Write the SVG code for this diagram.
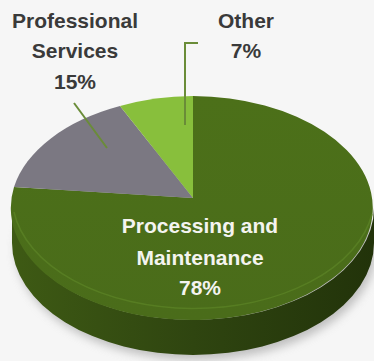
<svg xmlns="http://www.w3.org/2000/svg" width="374" height="361" viewBox="0 0 374 361">
  <style>
    .lbl { font-family: "Liberation Sans", Arial, sans-serif; font-weight: bold; font-size: 21px; text-anchor: middle; }
    .dark { fill: #3a3a3a; }
    .light { fill: #f4f4f0; }
    .leader { stroke: #6a8c38; stroke-width: 2; fill: none; }
  </style>
  <defs>
    <linearGradient id="side" x1="0" y1="0" x2="1" y2="0">
      <stop offset="0" stop-color="#3e5a14"/>
      <stop offset="0.5" stop-color="#2f4510"/>
      <stop offset="1" stop-color="#22330a"/>
    </linearGradient>
    <linearGradient id="topG" x1="0" y1="0" x2="0" y2="1">
      <stop offset="0" stop-color="#4c7019"/>
      <stop offset="1" stop-color="#4a6c1a"/>
    </linearGradient>
    <filter id="blur" x="-20%" y="-50%" width="140%" height="200%">
      <feGaussianBlur stdDeviation="5"/>
    </filter>
  </defs>
  <rect width="374" height="361" fill="#f6f6f6"/>
  <!-- shadow -->
  <ellipse cx="196" cy="250" rx="180" ry="110" fill="#9a9a9a" opacity="0.6" filter="url(#blur)"/>

  <g id="pie-side">
    <path d="M12,208 A181,112 0 0 0 374,208 L374,243 A181,112 0 0 1 12,243 Z" fill="url(#side)"/>
  </g>

  <g id="processing">
    <path d="M193,198 L193,96 A181,112 0 1 1 14,187 Z" fill="url(#topG)"/>
  </g>
  <g id="professional">
    <path d="M193,198 L14,187 A181,112 0 0 1 120,106 Z" fill="#7b7882"/>
  </g>
  <g id="other">
    <path d="M193,198 L120,106 A181,112 0 0 1 193,96 Z" fill="#88bf3c"/>
  </g>
  <path d="M14,212 A181,112 0 0 0 372,214" fill="none" stroke="#5d8426" stroke-width="1.5" opacity="0.7"/>

  <g id="connectors">
    <path class="leader" d="M198,43 L185,43 L185,125"/>
    <path class="leader" d="M74,103 L107,148"/>
  </g>

  <g id="label-professional">
    <text class="lbl dark" x="75" y="28">Professional</text>
    <text class="lbl dark" x="75" y="58">Services</text>
    <text class="lbl dark" x="75" y="89">15%</text>
  </g>
  <g id="label-other">
    <text class="lbl dark" x="246" y="28">Other</text>
    <text class="lbl dark" x="246" y="58">7%</text>
  </g>
  <g id="label-processing">
    <text class="lbl light" x="200" y="233">Processing and</text>
    <text class="lbl light" x="200" y="265">Maintenance</text>
    <text class="lbl light" x="200" y="295">78%</text>
  </g>
</svg>
